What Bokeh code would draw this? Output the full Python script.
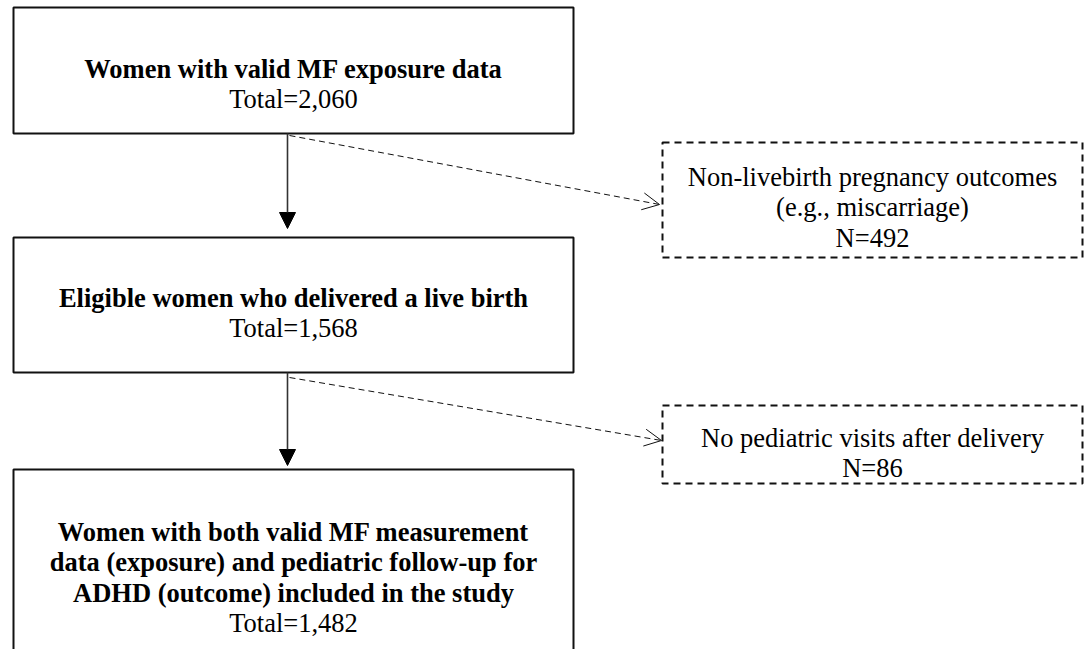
from bokeh.plotting import figure
from bokeh.models import Range1d, Arrow, NormalHead, OpenHead
from bokeh.core.properties import value
from bokeh.embed import file_html
from bokeh.resources import INLINE

# ---- data ----
main_titles = [
    ["Women with valid MF exposure data"],
    ["Eligible women who delivered a live birth"],
    ["Women with both valid MF measurement",
     "data (exposure) and pediatric follow-up for",
     "ADHD (outcome) included in the study"],
]
main_totals = [2060, 1568, 1482]
excl_labels = [
    ["Non-livebirth pregnancy outcomes", "(e.g., miscarriage)"],
    ["No pediatric visits after delivery"],
]
excl_counts = [492, 86]

# ---- layout (reference pixel coordinates, y downward) ----
W, H = 1089, 649
main_left, main_right = 13, 573
main_tops = [7, 237, 469]
main_bottoms = [133, 372, 700]
main_first_baseline = [68, 297, 531]
excl_left, excl_right = 662, 1082
excl_tops = [142, 405]
excl_bottoms = [257, 483]
excl_first_baseline = [176, 437]
line_gap = 30.5
arrow_x = 287
FONT = "Liberation Serif"
FS = "26.5px"

p = figure(width=W, height=H, output_backend="svg", toolbar_location=None,
           x_range=Range1d(0, W), y_range=Range1d(H, 0),
           min_border=0, outline_line_color=None)
p.axis.visible = False
p.grid.visible = False
p.background_fill_color = "white"
p.border_fill_color = "white"

# main boxes
p.quad(left=[main_left] * 3, right=[main_right] * 3, top=main_tops, bottom=main_bottoms,
       fill_color=None, line_color="#111111", line_width=2)
# exclusion boxes
p.quad(left=[excl_left] * 2, right=[excl_right] * 2, top=excl_tops, bottom=excl_bottoms,
       fill_color=None, line_color="#111111", line_width=2, line_dash="7 5")

cx = (main_left + main_right) / 2
ex = (excl_left + excl_right) / 2

bx, by, bt = [], [], []
rx, ry, rt = [], [], []
for i, lines in enumerate(main_titles):
    y = main_first_baseline[i]
    for ln in lines:
        bx.append(cx); by.append(y); bt.append(ln)
        y += line_gap
    rx.append(cx); ry.append(y); rt.append(f"Total={main_totals[i]:,}")

for i, lines in enumerate(excl_labels):
    y = excl_first_baseline[i]
    for ln in lines:
        rx.append(ex); ry.append(y); rt.append(ln)
        y += line_gap
    rx.append(ex); ry.append(y); rt.append(f"N={excl_counts[i]}")

p.text(x=bx, y=by, text=bt, text_font=value(FONT), text_font_size=FS,
       text_font_style="bold", text_align="center", text_baseline="alphabetic",
       text_color="black")
p.text(x=rx, y=ry, text=rt, text_font=value(FONT), text_font_size=FS,
       text_align="center", text_baseline="alphabetic", text_color="black")

# vertical arrows
for ys, ye in [(main_bottoms[0], 228), (main_bottoms[1], 465)]:
    p.add_layout(Arrow(end=NormalHead(size=16, fill_color="black", line_color="black"),
                       x_start=arrow_x, y_start=ys, x_end=arrow_x, y_end=ye,
                       line_color="#333333", line_width=1.6))

# dashed arrows to exclusion boxes
for (xs, ys, xe, ye) in [(289, 135, 659, 204), (289, 377, 661, 440)]:
    p.add_layout(Arrow(end=OpenHead(size=17, line_width=1, line_color="#111111"),
                       x_start=xs, y_start=ys, x_end=xe, y_end=ye,
                       line_color="#111111", line_width=1, line_dash="6 4"))

open("out.html", "w").write(file_html(p, INLINE))
